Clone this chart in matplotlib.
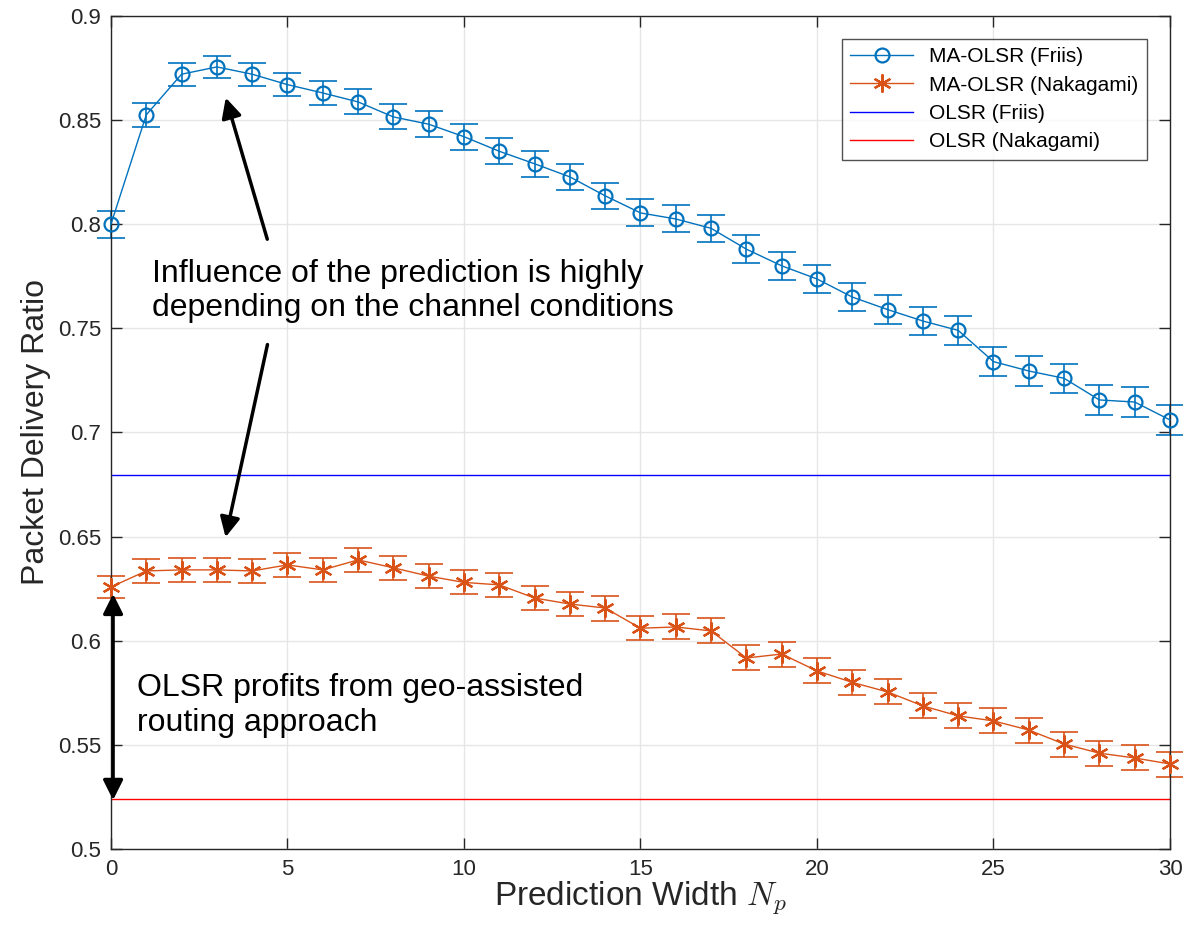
import numpy as np
import matplotlib
matplotlib.use('Agg')
import matplotlib.pyplot as plt

plt.rcParams['font.family'] = ['Liberation Sans', 'DejaVu Sans']
plt.rcParams['mathtext.fontset'] = 'cm'

# prediction width
Np = list(range(0, 31))

# MA-OLSR (Friis)
friis = [0.800, 0.8525, 0.872, 0.8755, 0.872, 0.867, 0.863, 0.8587, 0.8515, 0.848,
         0.842, 0.835, 0.829, 0.8227, 0.8136, 0.8054, 0.8025, 0.798, 0.788, 0.780,
         0.7737, 0.765, 0.759, 0.7535, 0.749, 0.734, 0.7295, 0.726, 0.7156, 0.7146, 0.706]
friis_err = [0.0065, 0.0058, 0.0055, 0.0053, 0.0055, 0.0057, 0.0058, 0.0060, 0.0060, 0.0062,
             0.0062, 0.0062, 0.0063, 0.0063, 0.0064, 0.0065, 0.0065, 0.0065, 0.0066, 0.0066,
             0.0067, 0.0068, 0.0068, 0.0069, 0.0069, 0.0070, 0.0070, 0.0070, 0.0070, 0.0070, 0.0070]

# MA-OLSR (Nakagami)
naka = [0.6258, 0.6335, 0.634, 0.634, 0.6335, 0.6364, 0.634, 0.6388, 0.635, 0.631,
        0.628, 0.6268, 0.6205, 0.6176, 0.6157, 0.606, 0.6066, 0.6047, 0.5917, 0.5936,
        0.5855, 0.580, 0.5754, 0.5687, 0.5639, 0.5615, 0.5571, 0.5504, 0.546, 0.5437, 0.5408]
naka_err = [0.0055, 0.0056, 0.0056, 0.0056, 0.0056, 0.0058, 0.0056, 0.0058, 0.0058, 0.0058,
            0.0058, 0.0058, 0.0058, 0.0058, 0.0060, 0.0058, 0.0060, 0.0060, 0.0060, 0.0060,
            0.0060, 0.0060, 0.0060, 0.0060, 0.0060, 0.0060, 0.0060, 0.0060, 0.0060, 0.0060, 0.0060]

# OLSR baselines (no prediction)
olsr_friis = 0.6796
olsr_naka = 0.524

c_friis = '#0072BD'
c_naka = '#D95319'
gray = '#262626'

fig = plt.figure(figsize=(11.83, 9.35), dpi=100)
ax = fig.add_axes([0.0938, 0.092, 0.8952, 0.891])

# error bars drawn separately, lines+markers carry the legend
ax.errorbar(Np, friis, yerr=friis_err, fmt='none', ecolor=c_friis,
            capsize=10, elinewidth=1.2, capthick=1.2, clip_on=False)
ax.errorbar(Np, naka, yerr=naka_err, fmt='none', ecolor=c_naka,
            capsize=10, elinewidth=1.2, capthick=1.2, clip_on=False)
h1, = ax.plot(Np, friis, color=c_friis, marker='o', mfc='none', ms=10, mew=1.6,
              lw=1.0, clip_on=False, zorder=3, label='MA-OLSR (Friis)')
h2, = ax.plot(Np, naka, color=c_naka, marker=(6, 2, 0), ms=13, mew=1.6,
              lw=1.0, clip_on=False, zorder=3, label='MA-OLSR (Nakagami)')
h3 = ax.axhline(olsr_friis, color='b', lw=1.0, label='OLSR (Friis)')
h4 = ax.axhline(olsr_naka, color='r', lw=1.0, label='OLSR (Nakagami)')

ax.set_xlim(0, 30)
ax.set_ylim(0.5, 0.9)
ax.set_xticks(np.arange(0, 31, 5))
ax.set_yticks(np.arange(0.5, 0.901, 0.05))
ax.set_yticklabels(['0.5', '0.55', '0.6', '0.65', '0.7', '0.75', '0.8', '0.85', '0.9'])
ax.grid(True, color='#e6e6e6', lw=1.0)
ax.set_axisbelow(True)
ax.tick_params(direction='in', length=8, width=1, top=True, right=True,
               labelsize=16, colors=gray, pad=7)
for s in ax.spines.values():
    s.set_color(gray)
    s.set_linewidth(1)

ax.set_xlabel('Prediction Width $N_p$', fontsize=24, color=gray, labelpad=0)
ax.set_ylabel('Packet Delivery Ratio', fontsize=23, color=gray, labelpad=5)

# annotations
ax.text(1.16, 0.768, 'Influence of the prediction is highly\ndepending on the channel conditions',
        fontsize=23, color='k', va='center', ha='left', linespacing=1.2)
ax.annotate('', xy=(3.23, 0.862), xytext=(4.45, 0.7915),
            arrowprops=dict(arrowstyle='-|>', lw=2.5, color='k', mutation_scale=30))
ax.annotate('', xy=(3.23, 0.6484), xytext=(4.45, 0.7435),
            arrowprops=dict(arrowstyle='-|>', lw=2.5, color='k', mutation_scale=30))
ax.text(0.74, 0.569, 'OLSR profits from geo-assisted\nrouting approach',
        fontsize=23, color='k', va='center', ha='left', linespacing=1.2)
ax.annotate('', xy=(0.06, 0.6225), xytext=(0.06, 0.5235),
            arrowprops=dict(arrowstyle='<|-|>', lw=2.5, color='k', mutation_scale=30,
                            shrinkA=0, shrinkB=0))

leg = ax.legend(handles=[h1, h2, h3, h4], loc='upper right', fontsize=15, frameon=True,
                fancybox=False, edgecolor=gray, handlelength=3, borderaxespad=1.1,
                labelspacing=0.45)
leg.get_frame().set_linewidth(1)

fig.savefig('out.png', dpi=100)
